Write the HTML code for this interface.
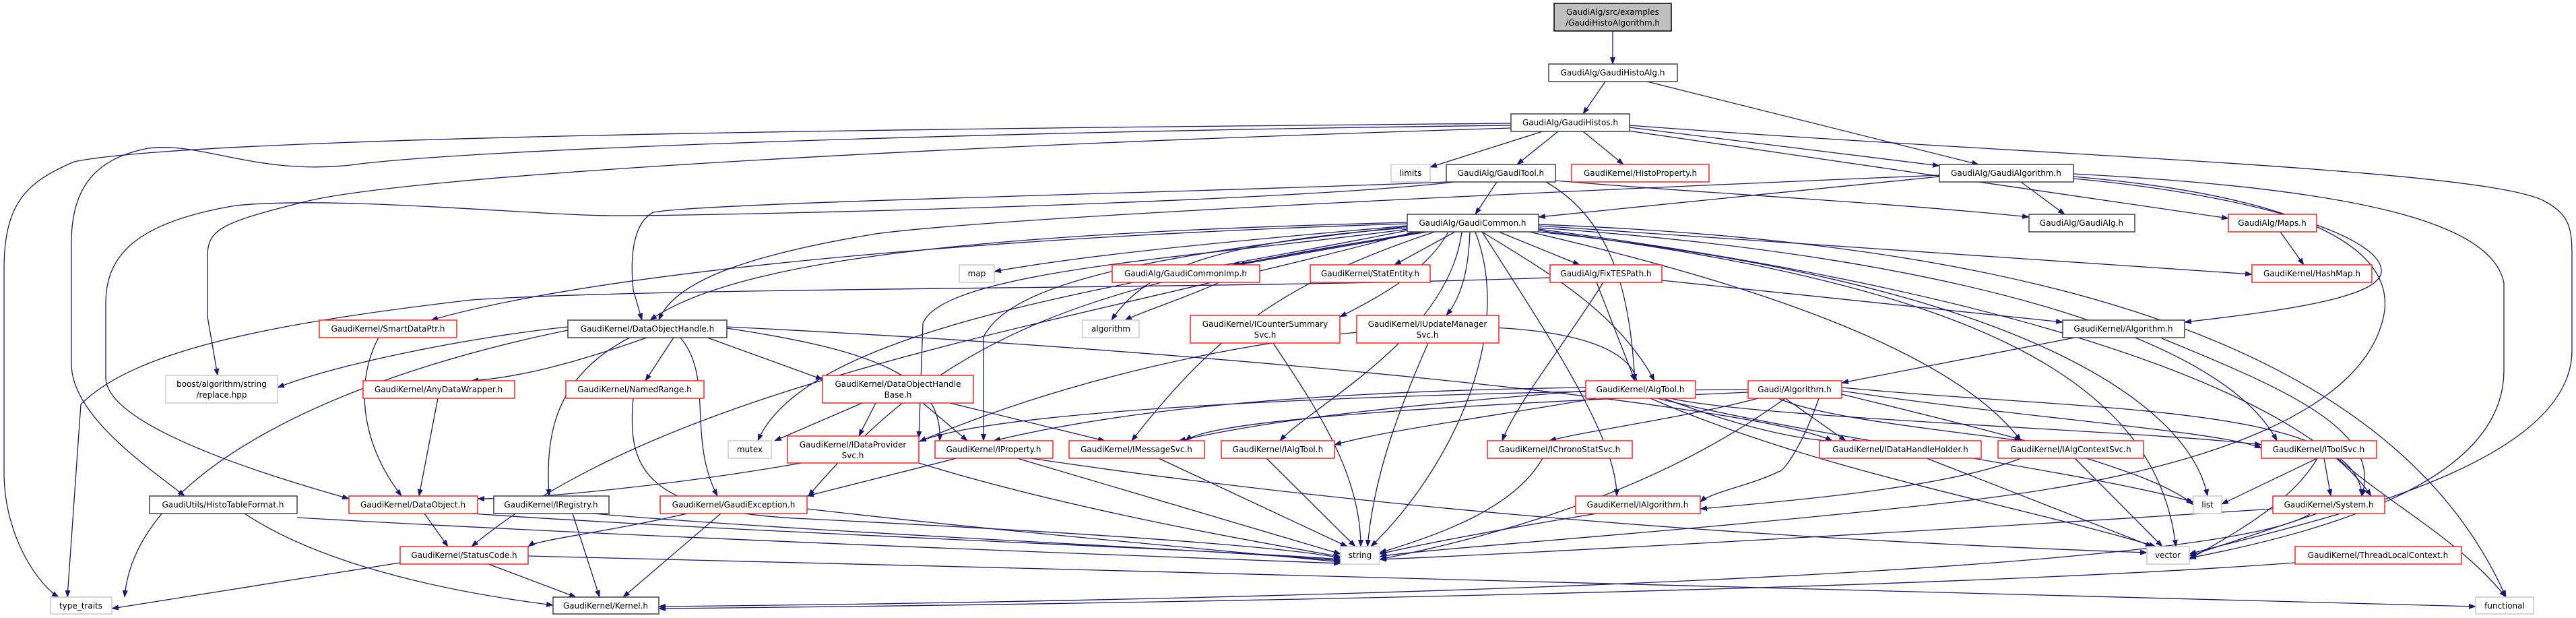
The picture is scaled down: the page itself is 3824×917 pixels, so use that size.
<!DOCTYPE html>
<html><head><meta charset="utf-8"><style>
html,body{margin:0;padding:0;background:#fff;width:3824px;height:917px;overflow:hidden}
svg{display:block}
.e{fill:none;stroke:#191970;stroke-width:1.3}
.n{fill:#fff;stroke-width:1.5}
.k{stroke:#404040}.r{stroke:#ff2020}.g{stroke:#c8c8c8}
text{font-family:"DejaVu Sans","Liberation Sans",sans-serif;font-size:12px;fill:#000;text-anchor:middle}
</style></head><body>
<svg width="3824" height="917" viewBox="0 0 3824 917" xmlns="http://www.w3.org/2000/svg">
<defs><marker id="a" markerWidth="11" markerHeight="8" refX="10" refY="4" orient="auto" markerUnits="userSpaceOnUse"><path d="M0,0 L11,4 L0,8 z" fill="#191970"/></marker></defs>
<g class="e" marker-end="url(#a)">
<path d="M2394,46 L2394,95"/>
<path d="M2383,121 L2350,169"/>
<path d="M2445,121 L2937,244"/>
<path d="M2290,195 L2123,248"/>
<path d="M2313,195 L2252,244"/>
<path d="M2350,195 L2410,244"/>
<path d="M2419,189 L2879,246"/>
<path d="M2410,193 L3308,324"/>
<path d="M2419,186 C3000,230 3700,250 3780,300 C3815,320 3818,340 3818,380 L3818,520 C3818,700 3400,780 3250,822"/>
<path d="M2243,183 C1500,190 300,200 110,240 C40,270 6,300 6,400 L6,700 C6,800 60,870 87,886"/>
<path d="M2243,186 C1500,195 700,220 520,245 C380,260 300,210 220,220 C140,235 106,280 106,360 L106,540 C106,620 230,700 274,736"/>
<path d="M2243,190 C1400,216 600,260 450,300 C330,330 308,340 308,380 L308,470 L323,557"/>
<path d="M2147,270 C1800,285 1050,300 970,315 C940,330 935,380 940,430 L953,475"/>
<path d="M2160,270 C1900,300 1100,320 912,320 C800,320 500,290 350,305 C200,330 157,380 157,450 L157,560 C157,640 450,720 518,740"/>
<path d="M2222,270 L2190,318"/>
<path d="M2309,268 C2500,285 2800,300 3012,322"/>
<path d="M2295,270 C2400,330 2420,450 2427,565"/>
<path d="M2879,262 C2700,280 2450,305 2284,322"/>
<path d="M2879,260 C2400,280 1500,320 1300,347 C1100,380 1000,420 978,475"/>
<path d="M3000,270 L3065,318"/>
<path d="M3078,258 C3500,280 3700,330 3717,420 L3717,550 C3717,700 3500,780 3250,828"/>
<path d="M3078,262 C3400,290 3550,360 3540,460 C3520,600 3300,700 2900,745 C2500,790 2100,815 2048,826"/>
<path d="M3078,265 C3350,290 3530,350 3535,400 C3540,440 3400,460 3243,478"/>
<path d="M3080,501 L2734,568"/>
<path d="M3209,502 C3400,580 3537,640 3506,736"/>
<path d="M3385,344 L3420,393"/>
<path d="M2467,416 C2700,440 2900,460 3062,478"/>
<path d="M2370,419 L2427,565"/>
<path d="M2380,419 C2330,500 2250,600 2230,654"/>
<path d="M2301,412 C1800,430 1000,425 700,445 C400,480 200,520 120,600 L100,886"/>
<path d="M2089,335 C1800,360 1600,380 1476,403"/>
<path d="M2110,344 L1830,393"/>
<path d="M2118,344 L1838,393"/>
<path d="M2160,344 L2070,393"/>
<path d="M2225,344 L2345,393"/>
<path d="M2089,338 C1800,360 1700,400 1650,475"/>
<path d="M2089,332 C1500,350 900,400 640,475"/>
<path d="M2089,330 C1500,345 1100,380 965,475"/>
<path d="M2089,340 C1800,380 1400,400 1370,480 L1364,650"/>
<path d="M2089,336 C1700,380 1500,420 1460,500 L1460,654"/>
<path d="M2150,344 C2120,400 2050,440 1989,470"/>
<path d="M2182,344 C2180,400 2170,440 2147,468"/>
<path d="M2200,344 C2290,400 2400,460 2456,565"/>
<path d="M2190,344 C2250,500 2150,700 2035,811"/>
<path d="M2284,335 C2700,360 3100,390 3343,407"/>
<path d="M2284,338 C2900,380 3300,500 3380,654"/>
<path d="M2284,340 C2900,420 3400,560 3520,736"/>
<path d="M2284,342 C2900,420 3200,550 3230,811"/>
<path d="M2284,344 C3000,420 3250,600 3277,736"/>
<path d="M2284,333 C3000,360 3550,500 3720,886"/>
<path d="M2200,344 C2300,500 2400,650 2400,736"/>
<path d="M2170,344 C2150,500 1950,600 1900,654"/>
<path d="M2130,344 C1900,420 1800,500 1680,654"/>
<path d="M2120,344 C1600,420 1400,500 1200,736"/>
<path d="M2100,344 C1600,480 1000,560 700,811"/>
<path d="M2089,342 C1700,420 1200,480 1125,654"/>
<path d="M2270,344 C2600,420 2900,520 3000,654"/>
<path d="M2430,565 C2400,430 1800,470 1365,655"/>
<path d="M2354,575 C2000,580 1700,600 1475,654"/>
<path d="M2354,580 C2100,600 1900,620 1750,654"/>
<path d="M2370,591 C2200,620 2050,640 1981,660"/>
<path d="M2460,591 C2700,650 3100,700 3256,745"/>
<path d="M2450,591 C2700,700 3000,750 3200,811"/>
<path d="M2480,591 C2600,620 3200,640 3357,660"/>
<path d="M2470,591 C2600,640 2700,660 2760,654"/>
<path d="M2595,578 C2200,580 1500,600 1365,655"/>
<path d="M2595,582 C2200,600 1800,620 1760,654"/>
<path d="M2610,591 C2500,620 2350,640 2300,654"/>
<path d="M2640,591 C2700,620 2900,640 3000,654"/>
<path d="M2734,580 C3000,620 3300,640 3357,665"/>
<path d="M2734,585 C3000,650 3200,700 3256,749"/>
<path d="M2734,575 C3100,610 3500,600 3506,736"/>
<path d="M2700,591 C2680,650 2650,700 2640,700 C2600,720 2540,730 2524,745"/>
<path d="M2650,591 L2740,654"/>
<path d="M2650,591 C2500,700 2300,780 2048,830"/>
<path d="M3440,680 L3298,748"/>
<path d="M3450,680 L3460,736"/>
<path d="M3470,680 C3550,750 3650,800 3720,886"/>
<path d="M3440,680 C3400,750 3300,800 3250,830"/>
<path d="M3440,762 L3250,825"/>
<path d="M3374,755 C3000,780 2300,820 2048,830"/>
<path d="M3430,762 C3300,850 2000,890 978,900"/>
<path d="M3407,835 C2800,880 1500,898 978,903"/>
<path d="M3000,680 C2900,720 2700,740 2524,755"/>
<path d="M3080,680 L3210,811"/>
<path d="M2860,680 L3195,811"/>
<path d="M843,485 C700,500 500,540 412,575"/>
<path d="M960,501 C850,540 770,560 700,565"/>
<path d="M1000,501 L958,565"/>
<path d="M1050,501 L1221,563"/>
<path d="M935,501 C820,560 810,650 815,736"/>
<path d="M1010,501 C1060,560 1020,650 1065,736"/>
<path d="M843,490 C500,560 200,700 185,886"/>
<path d="M1079,487 C1300,520 1400,560 1395,654"/>
<path d="M1079,485 C1800,520 2600,600 2720,654"/>
<path d="M1280,598 L1150,654"/>
<path d="M1300,598 L1275,647"/>
<path d="M1370,598 L1436,654"/>
<path d="M1410,598 L1640,654"/>
<path d="M1190,687 C1000,720 800,740 709,740"/>
<path d="M1364,687 C1600,760 1900,810 1990,826"/>
<path d="M1420,680 L1198,736"/>
<path d="M1510,680 L1990,822"/>
<path d="M1530,680 C2200,780 2900,810 3187,820"/>
<path d="M1720,680 L2000,811"/>
<path d="M1880,680 L2012,811"/>
<path d="M2290,680 C2250,750 2150,790 2048,820"/>
<path d="M2370,762 C2200,790 2100,810 2048,822"/>
<path d="M1890,509 C1950,600 2020,700 2020,811"/>
<path d="M2120,509 C2080,600 2040,700 2030,811"/>
<path d="M1860,393 C1800,430 1700,460 1670,475"/>
<path d="M562,501 C530,560 530,650 596,736"/>
<path d="M650,591 L622,736"/>
<path d="M940,591 C930,700 960,760 1200,770 C1600,790 1900,810 1990,828"/>
<path d="M630,762 L665,811"/>
<path d="M700,762 C1100,790 1800,815 1990,830"/>
<path d="M850,762 L890,886"/>
<path d="M880,762 C1200,790 1800,815 1990,832"/>
<path d="M1020,762 C900,790 800,800 784,811"/>
<path d="M1070,762 L925,886"/>
<path d="M1198,755 C1500,790 1800,815 1990,834"/>
<path d="M363,762 C450,820 600,870 821,898"/>
<path d="M441,768 C1000,800 1700,825 1990,836"/>
<path d="M594,835 L166,903"/>
<path d="M725,837 L855,886"/>
<path d="M784,825 C1800,850 3000,880 3675,900"/>
</g>
<g>
<rect x="2307" y="5" width="174" height="41" fill="#bfbfbf" stroke="#000" stroke-width="1.5"/>
<text x="2394" y="22">GaudiAlg/src/examples</text><text x="2394" y="38">/GaudiHistoAlgorithm.h</text>
</g>
<g id="nodes">
<rect class="n k" x="2299" y="95" width="191" height="26"/><text x="2394" y="112">GaudiAlg/GaudiHistoAlg.h</text>
<rect class="n k" x="2243" y="169" width="176" height="26"/><text x="2331" y="186">GaudiAlg/GaudiHistos.h</text>
<rect class="n g" x="2065" y="244" width="58" height="26"/><text x="2094" y="261">limits</text>
<rect class="n k" x="2147" y="244" width="162" height="26"/><text x="2228" y="261">GaudiAlg/GaudiTool.h</text>
<rect class="n r" x="2333" y="244" width="204" height="26"/><text x="2435" y="261">GaudiKernel/HistoProperty.h</text>
<rect class="n k" x="2879" y="244" width="199" height="26"/><text x="2978" y="261">GaudiAlg/GaudiAlgorithm.h</text>
<rect class="n k" x="2089" y="318" width="195" height="26"/><text x="2186" y="335">GaudiAlg/GaudiCommon.h</text>
<rect class="n k" x="3012" y="318" width="157" height="26"/><text x="3090" y="335">GaudiAlg/GaudiAlg.h</text>
<rect class="n r" x="3308" y="318" width="131" height="26"/><text x="3373" y="335">GaudiAlg/Maps.h</text>
<rect class="n g" x="1424" y="393" width="52" height="26"/><text x="1450" y="410">map</text>
<rect class="n r" x="1651" y="393" width="219" height="26"/><text x="1760" y="410">GaudiAlg/GaudiCommonImp.h</text>
<rect class="n r" x="1945" y="393" width="178" height="26"/><text x="2034" y="410">GaudiKernel/StatEntity.h</text>
<rect class="n r" x="2301" y="393" width="166" height="26"/><text x="2384" y="410">GaudiAlg/FixTESPath.h</text>
<rect class="n r" x="3343" y="393" width="178" height="26"/><text x="3432" y="410">GaudiKernel/HashMap.h</text>
<rect class="n r" x="474" y="475" width="204" height="26"/><text x="576" y="492">GaudiKernel/SmartDataPtr.h</text>
<rect class="n k" x="843" y="475" width="236" height="26"/><text x="961" y="492">GaudiKernel/DataObjectHandle.h</text>
<rect class="n g" x="1607" y="475" width="84" height="26"/><text x="1649" y="492">algorithm</text>
<rect class="n r" x="1767" y="468" width="222" height="41"/><text x="1878" y="485">GaudiKernel/ICounterSummary</text><text x="1878" y="501">Svc.h</text>
<rect class="n r" x="2014" y="468" width="211" height="41"/><text x="2119" y="485">GaudiKernel/IUpdateManager</text><text x="2119" y="501">Svc.h</text>
<rect class="n k" x="3062" y="475" width="181" height="26"/><text x="3152" y="492">GaudiKernel/Algorithm.h</text>
<rect class="n g" x="246" y="557" width="166" height="41"/><text x="329" y="574">boost/algorithm/string</text><text x="329" y="590">/replace.hpp</text>
<rect class="n r" x="539" y="565" width="225" height="26"/><text x="651" y="582">GaudiKernel/AnyDataWrapper.h</text>
<rect class="n r" x="840" y="565" width="205" height="26"/><text x="942" y="582">GaudiKernel/NamedRange.h</text>
<rect class="n r" x="1221" y="557" width="224" height="41"/><text x="1333" y="574">GaudiKernel/DataObjectHandle</text><text x="1333" y="590">Base.h</text>
<rect class="n r" x="2354" y="565" width="163" height="26"/><text x="2435" y="582">GaudiKernel/AlgTool.h</text>
<rect class="n r" x="2595" y="565" width="139" height="26"/><text x="2664" y="582">Gaudi/Algorithm.h</text>
<rect class="n g" x="1081" y="654" width="64" height="26"/><text x="1113" y="671">mutex</text>
<rect class="n r" x="1169" y="647" width="195" height="40"/><text x="1266" y="664">GaudiKernel/IDataProvider</text><text x="1266" y="680">Svc.h</text>
<rect class="n r" x="1388" y="654" width="175" height="26"/><text x="1475" y="671">GaudiKernel/IProperty.h</text>
<rect class="n r" x="1587" y="654" width="201" height="26"/><text x="1687" y="671">GaudiKernel/IMessageSvc.h</text>
<rect class="n r" x="1813" y="654" width="168" height="26"/><text x="1897" y="671">GaudiKernel/IAlgTool.h</text>
<rect class="n r" x="2208" y="654" width="215" height="26"/><text x="2315" y="671">GaudiKernel/IChronoStatSvc.h</text>
<rect class="n r" x="2701" y="654" width="240" height="26"/><text x="2821" y="671">GaudiKernel/IDataHandleHolder.h</text>
<rect class="n r" x="2966" y="654" width="216" height="26"/><text x="3074" y="671">GaudiKernel/IAlgContextSvc.h</text>
<rect class="n r" x="3357" y="654" width="171" height="26"/><text x="3442" y="671">GaudiKernel/IToolSvc.h</text>
<rect class="n k" x="222" y="736" width="219" height="26"/><text x="331" y="753">GaudiUtils/HistoTableFormat.h</text>
<rect class="n r" x="518" y="736" width="191" height="26"/><text x="613" y="753">GaudiKernel/DataObject.h</text>
<rect class="n k" x="733" y="736" width="171" height="26"/><text x="818" y="753">GaudiKernel/IRegistry.h</text>
<rect class="n r" x="980" y="736" width="218" height="26"/><text x="1089" y="753">GaudiKernel/GaudiException.h</text>
<rect class="n r" x="2339" y="736" width="185" height="26"/><text x="2431" y="753">GaudiKernel/IAlgorithm.h</text>
<rect class="n g" x="3256" y="736" width="42" height="26"/><text x="3277" y="753">list</text>
<rect class="n r" x="3374" y="736" width="166" height="26"/><text x="3457" y="753">GaudiKernel/System.h</text>
<rect class="n r" x="594" y="811" width="190" height="26"/><text x="689" y="828">GaudiKernel/StatusCode.h</text>
<rect class="n g" x="1990" y="811" width="58" height="26"/><text x="2019" y="828">string</text>
<rect class="n g" x="3187" y="811" width="63" height="26"/><text x="3218" y="828">vector</text>
<rect class="n r" x="3407" y="811" width="247" height="26"/><text x="3530" y="828">GaudiKernel/ThreadLocalContext.h</text>
<rect class="n g" x="75" y="886" width="91" height="25"/><text x="120" y="903">type_traits</text>
<rect class="n k" x="821" y="886" width="157" height="25"/><text x="899" y="903">GaudiKernel/Kernel.h</text>
<rect class="n g" x="3675" y="886" width="86" height="25"/><text x="3718" y="903">functional</text>
</g>
</svg>
</body></html>
